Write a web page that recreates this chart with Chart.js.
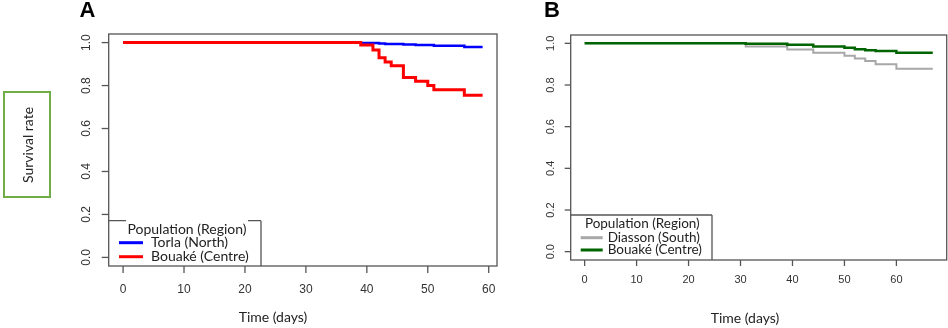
<!DOCTYPE html>
<html>
<head>
<meta charset="utf-8">
<script src="https://cdn.jsdelivr.net/npm/chart.js@4"></script>
<style>
  body { margin: 0; background: #fff; }
  #wrap { position: relative; width: 948px; height: 328px; overflow: hidden; }
  canvas { position: absolute; top: 0; }
  #chartA { left: 0; }
  #chartB { left: 520px; }
  #ylab {
    position: absolute; left: 3px; top: 91px; width: 44px; height: 103px;
    border: 2px solid #70ad47; box-sizing: content-box;
  }
  #ylab span {
    position: absolute; left: 50%; top: 50%;
    transform: translate(-50%, -50%) rotate(-90deg);
    white-space: nowrap; font: 14px Lato, sans-serif; color: #222;
  }
</style>
</head>
<body>
<div id="wrap">
  <canvas id="chartA" width="520" height="328"></canvas>
  <canvas id="chartB" width="428" height="328"></canvas>
  <div id="ylab"><span>Survival rate</span></div>
</div>
<script>
// Panel A: Kaplan-Meier steps
const torlaDays = [0, 39, 42, 43, 46, 48, 51, 56, 59];
const torlaSurv = [1, 0.998, 0.996, 0.994, 0.991, 0.989, 0.985, 0.979, 0.979];
const bouakeADays = [0, 39, 41, 42, 43, 44, 46, 48, 50, 51, 56, 59];
const bouakeASurv = [1, 0.989, 0.966, 0.93, 0.91, 0.892, 0.838, 0.82, 0.80, 0.78, 0.755, 0.755];

// Panel B
const diassonDays = [0, 31, 39, 44, 50, 52, 54, 56, 60, 67];
const diassonSurv = [1, 0.985, 0.971, 0.955, 0.94, 0.927, 0.915, 0.90, 0.878, 0.878];
const bouakeBDays = [0, 31, 39, 44, 50, 52, 54, 56, 60, 67];
const bouakeBSurv = [1, 0.998, 0.993, 0.985, 0.979, 0.972, 0.967, 0.963, 0.955, 0.955];

const xTicksA = [0, 10, 20, 30, 40, 50, 60];
const xTicksB = [0, 10, 20, 30, 40, 50, 60];
const yTicks = [0.0, 0.2, 0.4, 0.6, 0.8, 1.0];

const toPoints = (days, surv) => days.map((d, i) => ({ x: d, y: surv[i] }));

// R-style axes, box and legend drawn on top of the chart area
const rAxes = {
    id: 'rAxes',
    afterDraw(chart, args, o) {
        const ctx = chart.ctx;
        const a = chart.chartArea;
        const xs = chart.scales.x, ys = chart.scales.y;
        ctx.save();
        ctx.strokeStyle = '#555';
        ctx.lineWidth = 1.3;
        ctx.strokeRect(a.left, a.top, a.right - a.left, a.bottom - a.top);

        // x ticks
        ctx.fillStyle = '#333';
        ctx.font = o.tickFont;
        ctx.textAlign = 'center';
        ctx.textBaseline = 'middle';
        o.xTicks.forEach(t => {
            const px = xs.getPixelForValue(t);
            ctx.beginPath();
            ctx.moveTo(px, a.bottom);
            ctx.lineTo(px, a.bottom + o.tickLen);
            ctx.stroke();
            ctx.fillText(String(t), px, a.bottom + o.xLabOff);
        });
        // y ticks, labels parallel to axis
        o.yTicks.forEach(t => {
            const py = ys.getPixelForValue(t);
            ctx.beginPath();
            ctx.moveTo(a.left, py);
            ctx.lineTo(a.left - o.tickLen, py);
            ctx.stroke();
            ctx.save();
            ctx.translate(a.left - o.yLabOff, py);
            ctx.rotate(-Math.PI / 2);
            ctx.fillText(t.toFixed(1), 0, 0);
            ctx.restore();
        });

        // axis title
        ctx.fillStyle = '#222';
        ctx.font = '14px Lato, sans-serif';
        ctx.fillText('Time (days)', o.xTitle[0], o.xTitle[1]);

        // panel letter
        ctx.fillStyle = '#000';
        ctx.font = 'bold 22px "Liberation Sans", Arial, sans-serif';
        ctx.fillText(o.letter, o.letterPos[0], o.letterPos[1]);

        // legend
        const L = o.legend;
        ctx.strokeStyle = '#555';
        ctx.lineWidth = 1.3;
        ctx.beginPath();
        if (L.gap) {
            ctx.moveTo(a.left, L.top);
            ctx.lineTo(L.gap[0], L.top);
            ctx.moveTo(L.gap[1], L.top);
            ctx.lineTo(L.right, L.top);
        } else {
            ctx.moveTo(a.left, L.top);
            ctx.lineTo(L.right, L.top);
        }
        ctx.moveTo(L.right, L.top);
        ctx.lineTo(L.right, a.bottom);
        ctx.stroke();

        ctx.font = L.font;
        ctx.fillStyle = '#222';
        ctx.textAlign = 'center';
        ctx.fillText('Population (Region)', L.titleX, L.titleY);
        ctx.textAlign = 'left';
        L.items.forEach((it, i) => {
            const y = L.rowY[i];
            ctx.strokeStyle = it.color;
            ctx.lineWidth = 3;
            ctx.beginPath();
            ctx.moveTo(L.lineX[0], y);
            ctx.lineTo(L.lineX[1], y);
            ctx.stroke();
            ctx.fillText(it.label, L.textX, y);
        });
        ctx.restore();
    }
};

const baseOptions = (xMax, padding, axes) => ({
    responsive: false,
    animation: false,
    layout: { padding: padding },
    scales: {
        x: { type: 'linear', min: -0.04 * xMax, max: 1.04 * xMax, display: false },
        y: { type: 'linear', min: -0.04, max: 1.04, display: false }
    },
    plugins: {
        legend: { display: false },
        tooltip: { enabled: false },
        rAxes: axes
    },
    elements: { point: { radius: 0 } }
});

new Chart(document.getElementById('chartA'), {
    type: 'line',
    data: {
        datasets: [
            { label: 'Bouaké (Centre)', data: toPoints(bouakeADays, bouakeASurv), borderColor: '#ff0000', borderWidth: 3, stepped: 'before', fill: false },
            { label: 'Torla (North)', data: toPoints(torlaDays, torlaSurv), borderColor: '#0000ff', borderWidth: 2.5, stepped: 'before', fill: false }
        ]
    },
    options: baseOptions(59, { left: 108.7, right: 23, top: 34, bottom: 62 }, {
        xTicks: xTicksA, yTicks: yTicks,
        tickFont: '12px "Liberation Sans", Arial, sans-serif',
        tickLen: 7, xLabOff: 23.5, yLabOff: 22.5,
        xTitle: [273, 317], letter: 'A', letterPos: [87.5, 11],
        legend: {
            top: 220.7, right: 261, gap: [126, 248],
            font: '14px Lato, sans-serif', titleX: 187, titleY: 229,
            rowY: [242.7, 256.7], lineX: [119, 143], textX: 151,
            items: [{ label: 'Torla (North)', color: '#0000ff' }, { label: 'Bouaké (Centre)', color: '#ff0000' }]
        }
    }),
    plugins: [rAxes]
});

new Chart(document.getElementById('chartB'), {
    type: 'line',
    data: {
        datasets: [
            { label: 'Bouaké (Centre)', data: toPoints(bouakeBDays, bouakeBSurv), borderColor: '#006400', borderWidth: 2.5, stepped: 'before', fill: false },
            { label: 'Diasson (South)', data: toPoints(diassonDays, diassonSurv), borderColor: '#a8a8a8', borderWidth: 2, stepped: 'before', fill: false }
        ]
    },
    options: baseOptions(67, { left: 50.7, right: 1.3, top: 35, bottom: 68 }, {
        xTicks: xTicksB, yTicks: yTicks,
        tickFont: '11px "Liberation Sans", Arial, sans-serif',
        tickLen: 6, xLabOff: 20, yLabOff: 19.5,
        xTitle: [225, 318], letter: 'B', letterPos: [32, 11],
        legend: {
            top: 215, right: 192, gap: null,
            font: '13.5px Lato, sans-serif', titleX: 122.3, titleY: 223.5,
            rowY: [237.7, 250], lineX: [60.7, 82.7], textX: 87.7,
            items: [{ label: 'Diasson (South)', color: '#a8a8a8' }, { label: 'Bouaké (Centre)', color: '#006400' }]
        }
    }),
    plugins: [rAxes]
});
</script>
</body>
</html>
